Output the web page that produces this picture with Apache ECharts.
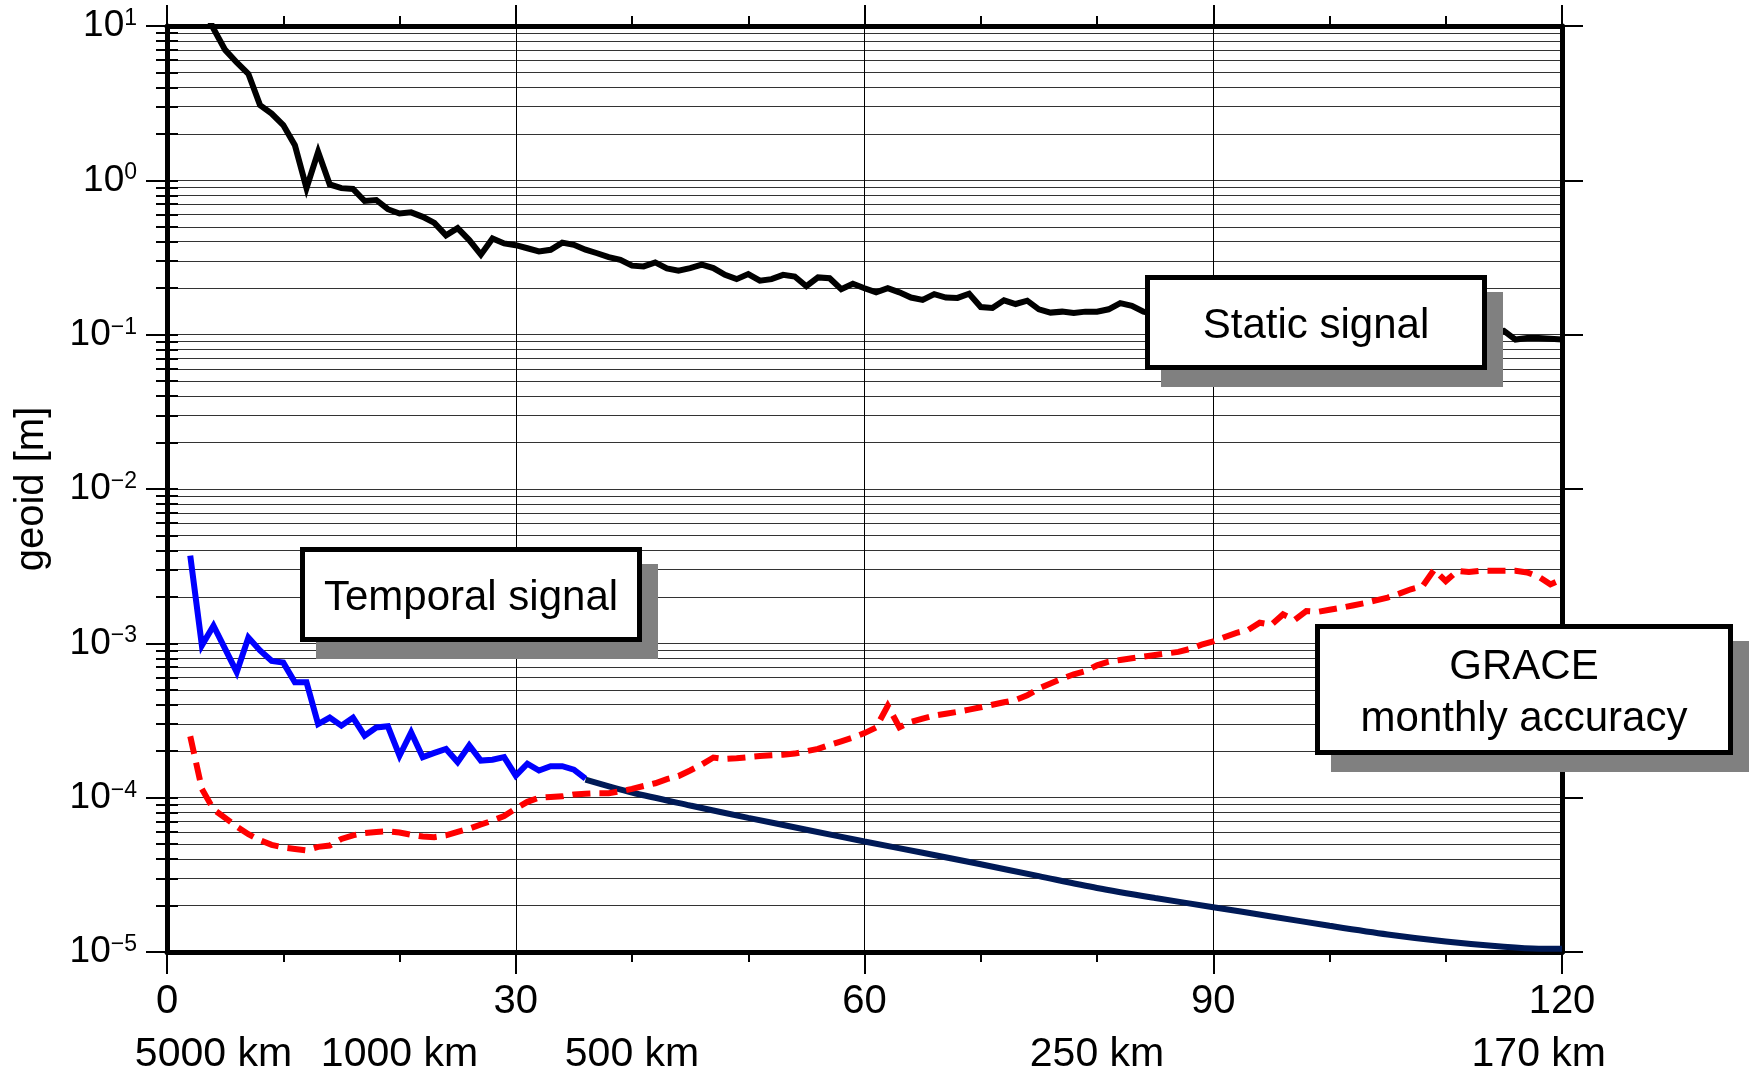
<!DOCTYPE html>
<html>
<head>
<meta charset="utf-8">
<title>geoid signal</title>
<script src="https://cdn.jsdelivr.net/npm/echarts@6/dist/echarts.min.js"></script>
<style>
    html, body {margin: 0; padding: 0; background: #ffffff;}
    #char1 {width: 1750px; height: 1075px;}
</style>
</head>
<body>
<div id="char1"></div>
<script>
// x axis: spherical harmonic degree
var degreeMin = 0;
var degreeMax = 120;
var degreeStep = 30;

// half wavelength labels under the degree labels
var kmDegrees = [4, 20, 40, 80, 118];
var kmLabels = ['5000 km', '1000 km', '500 km', '250 km', '170 km'];

// y axis: geoid [m], log scale
var yMin = 1e-5;
var yMax = 10;

// static signal, degree 2 .. 120
var staticStart = 2;
var staticSignal = [
    30, 14, 9.6, 7.0, 5.8, 4.9, 3.07, 2.71, 2.28, 1.69,
    0.89, 1.53, 0.94, 0.89, 0.88, 0.735, 0.746, 0.65, 0.61, 0.62,
    0.58, 0.53, 0.44, 0.49, 0.41, 0.33, 0.42, 0.39, 0.38, 0.363,
    0.346, 0.355, 0.395, 0.382, 0.355, 0.337, 0.318, 0.305, 0.28, 0.277,
    0.294, 0.269, 0.26, 0.27, 0.284, 0.27, 0.244, 0.229, 0.247, 0.224,
    0.229, 0.244, 0.238, 0.206, 0.235, 0.232, 0.197, 0.214, 0.2, 0.188,
    0.2, 0.188, 0.174, 0.168, 0.183, 0.174, 0.173, 0.184, 0.151, 0.149,
    0.167, 0.158, 0.166, 0.146, 0.139, 0.141, 0.138, 0.141, 0.141, 0.146,
    0.16, 0.154, 0.141, 0.136, 0.131, 0.134, 0.127, 0.129, 0.124, 0.126,
    0.12, 0.123, 0.118, 0.12, 0.115, 0.117, 0.112, 0.115, 0.11, 0.112,
    0.108, 0.111, 0.106, 0.108, 0.104, 0.107, 0.103, 0.105, 0.101, 0.104,
    0.1, 0.103, 0.104, 0.106, 0.093, 0.095, 0.095, 0.094, 0.093
];

// GRACE monthly accuracy, degree 2 .. 120
var graceStart = 2;
var graceAccuracy = [
    2.5e-4, 1.14e-4, 8.4e-5, 7.4e-5, 6.5e-5, 5.8e-5, 5.3e-5, 4.95e-5, 4.75e-5, 4.65e-5,
    4.55e-5, 4.8e-5, 4.9e-5, 5.4e-5, 5.7e-5, 5.9e-5, 6.0e-5, 6.05e-5, 5.95e-5, 5.75e-5,
    5.6e-5, 5.55e-5, 5.7e-5, 6.0e-5, 6.3e-5, 6.7e-5, 7.1e-5, 7.6e-5, 8.5e-5, 9.4e-5,
    1.0e-4, 1.01e-4, 1.02e-4, 1.05e-4, 1.06e-4, 1.07e-4, 1.07e-4, 1.1e-4, 1.14e-4, 1.19e-4,
    1.24e-4, 1.32e-4, 1.38e-4, 1.5e-4, 1.64e-4, 1.82e-4, 1.78e-4, 1.8e-4, 1.83e-4, 1.86e-4,
    1.88e-4, 1.9e-4, 1.93e-4, 2.0e-4, 2.07e-4, 2.2e-4, 2.32e-4, 2.45e-4, 2.62e-4, 2.85e-4,
    3.94e-4, 2.86e-4, 3.1e-4, 3.25e-4, 3.4e-4, 3.5e-4, 3.6e-4, 3.72e-4, 3.85e-4, 4.0e-4,
    4.15e-4, 4.3e-4, 4.6e-4, 5.1e-4, 5.5e-4, 5.9e-4, 6.3e-4, 6.6e-4, 7.2e-4, 7.6e-4,
    7.8e-4, 8.0e-4, 8.2e-4, 8.4e-4, 8.6e-4, 8.8e-4, 9.2e-4, 9.8e-4, 1.03e-3, 1.1e-3,
    1.17e-3, 1.22e-3, 1.36e-3, 1.32e-3, 1.54e-3, 1.42e-3, 1.62e-3, 1.6e-3, 1.65e-3, 1.7e-3,
    1.76e-3, 1.82e-3, 1.9e-3, 1.98e-3, 2.1e-3, 2.24e-3, 2.34e-3, 3.0e-3, 2.53e-3, 2.95e-3,
    2.9e-3, 2.95e-3, 2.95e-3, 2.95e-3, 2.95e-3, 2.88e-3, 2.7e-3, 2.41e-3, 2.6e-3
];

// temporal signal, degree 2 .. 36
var temporalStart = 2;
var temporalSignal = [
    3.7e-3, 9.7e-4, 1.3e-3, 9.2e-4, 6.5e-4, 1.09e-3, 9.0e-4, 7.7e-4, 7.5e-4, 5.6e-4,
    5.6e-4, 3.0e-4, 3.3e-4, 2.93e-4, 3.3e-4, 2.52e-4, 2.85e-4, 2.9e-4, 1.87e-4, 2.65e-4,
    1.83e-4, 1.95e-4, 2.07e-4, 1.7e-4, 2.18e-4, 1.74e-4, 1.76e-4, 1.83e-4, 1.39e-4, 1.66e-4,
    1.5e-4, 1.6e-4, 1.6e-4, 1.52e-4, 1.33e-4
];

// temporal signal continued by the model curve
var modelDegrees = [36, 40, 45, 50, 55, 60, 65, 70, 75, 80, 85, 90, 95, 100, 105, 110, 115, 118, 120];
var modelSignal = [1.31e-4, 1.08e-4, 8.9e-5, 7.4e-5, 6.2e-5, 5.2e-5, 4.4e-5, 3.7e-5, 3.1e-5, 2.6e-5,
    2.24e-5, 1.95e-5, 1.7e-5, 1.48e-5, 1.3e-5, 1.17e-5, 1.08e-5, 1.05e-5, 1.05e-5];

var fontName = '"Liberation Sans", Arial, Helvetica, sans-serif';

$ready(function () {
    char1();
});

function $ready(fn) {
    if (document.readyState !== 'loading') fn();
    else document.addEventListener('DOMContentLoaded', fn);
}

function pairs(start, values) {
    return values.map(function (v, i) {
        return [start + i, v];
    });
}

function zip(xs, ys) {
    return xs.map(function (x, i) {
        return [x, ys[i]];
    });
}

// 1..9 times each decade, for the thin grid lines and the short ticks
function logMinorValues() {
    var out = [];
    for (var e = Math.round(Math.log10(yMin)); e < Math.round(Math.log10(yMax)); e++) {
        for (var m = 1; m <= 9; m++) {
            out.push(m * Math.pow(10, e));
        }
    }
    out.push(yMax);
    return out;
}

// white label box with a grey drop shadow, drawn above the curves
function noteBox(x, y, w, h, text) {
    return {
        type: 'group',
        x: x,
        y: y,
        z: 100,
        children: [
            {type: 'rect', z: 100, shape: {x: 16, y: 17, width: w, height: h}, style: {fill: '#808080'}},
            {type: 'rect', z: 101, shape: {x: 2.5, y: 2.5, width: w - 5, height: h - 5},
                style: {fill: '#ffffff', stroke: '#000000', lineWidth: 5}},
            {type: 'text', z: 102, x: w / 2, y: h / 2 + 4,
                style: {text: text, fill: '#000000', font: '42px ' + fontName,
                    align: 'center', verticalAlign: 'middle', lineHeight: 52}}
        ]
    };
}

function yAxisBase(position) {
    return {
        type: 'log',
        logBase: 10,
        min: yMin,
        max: yMax,
        position: position,
        axisLine: {show: false},
        axisTick: {show: false},
        axisLabel: {show: false},
        splitLine: {show: false}
    };
}

function xAxisBase(position) {
    return {
        type: 'value',
        min: degreeMin,
        max: degreeMax,
        interval: degreeStep,
        position: position,
        axisLine: {show: false},
        axisTick: {show: false},
        axisLabel: {show: false},
        splitLine: {show: false}
    };
}

function char1() {

    var myChart = echarts.init(document.getElementById('char1'));
    var minor = logMinorValues();
    var frame = {show: true, onZero: false, lineStyle: {color: '#000000', width: 5}};

    var yLeft = yAxisBase('left');
    yLeft.axisLine = frame;
    yLeft.axisTick = {show: true, length: 21, lineStyle: {color: '#000000', width: 2}};
    yLeft.axisLabel = {
        show: true,
        margin: 30,
        formatter: function (v) {
            var e = Math.round(Math.log10(v));
            var s = e < 0 ? '\u2212' + (-e) : '' + e;
            return '{b|10}{s|' + s + '}';
        },
        rich: {
            b: {fontSize: 37, lineHeight: 38, fontFamily: fontName, color: '#000000'},
            s: {fontSize: 23, lineHeight: 22, fontFamily: fontName, color: '#000000', verticalAlign: 'top'}
        }
    };
    yLeft.name = 'geoid [m]';
    yLeft.nameLocation = 'middle';
    yLeft.nameGap = 115;
    yLeft.nameRotate = 90;
    yLeft.nameTextStyle = {fontSize: 40, fontFamily: fontName, color: '#000000'};

    var yLeftMinor = yAxisBase('left');
    yLeftMinor.axisTick = {show: true, customValues: minor, length: 11, lineStyle: {color: '#000000', width: 2}};
    yLeftMinor.splitLine = {show: true, lineStyle: {color: '#333333', width: 1}};

    var yRight = yAxisBase('right');
    yRight.axisLine = frame;
    yRight.axisTick = {show: true, length: 21, lineStyle: {color: '#000000', width: 2}};

    var yRightMinor = yAxisBase('right');
    yRightMinor.axisTick = {show: true, customValues: minor, length: 11, lineStyle: {color: '#000000', width: 2}};

    var xBottom = xAxisBase('bottom');
    xBottom.axisLine = frame;
    xBottom.axisTick = {show: true, length: 22, lineStyle: {color: '#000000', width: 2}};
    xBottom.minorTick = {show: true, splitNumber: 3, length: 10, lineStyle: {color: '#000000', width: 2}};
    xBottom.axisLabel = {show: true, margin: 30, fontSize: 40, fontFamily: fontName, color: '#000000'};
    xBottom.splitLine = {show: true, lineStyle: {color: '#000000', width: 1}};

    var xTop = xAxisBase('top');
    xTop.axisLine = frame;
    xTop.axisTick = {show: true, length: 21, lineStyle: {color: '#000000', width: 2}};
    xTop.minorTick = {show: true, splitNumber: 3, length: 10, lineStyle: {color: '#000000', width: 2}};

    var xKm = xAxisBase('bottom');
    xKm.offset = 50;
    xKm.axisLabel = {
        show: true,
        customValues: kmDegrees,
        margin: 32,
        fontSize: 41,
        fontFamily: fontName,
        color: '#000000',
        formatter: function (v) {
            return kmLabels[kmDegrees.indexOf(v)];
        }
    };

    option = {
        backgroundColor: '#ffffff',
        animation: false,
        grid: {left: 167, right: 188, top: 26, bottom: 121, containLabel: false},
        xAxis: [xBottom, xTop, xKm],
        yAxis: [yLeft, yLeftMinor, yRight, yRightMinor],
        series: [
            {
                name: 'Static signal',
                type: 'line',
                symbol: 'none',
                clip: true,
                lineStyle: {color: '#000000', width: 6, join: 'miter'},
                data: pairs(staticStart, staticSignal)
            },
            {
                name: 'Temporal signal',
                type: 'line',
                symbol: 'none',
                lineStyle: {color: '#0000ff', width: 6, join: 'miter'},
                data: pairs(temporalStart, temporalSignal)
            },
            {
                name: 'Temporal model',
                type: 'line',
                symbol: 'none',
                smooth: 0.3,
                lineStyle: {color: '#001a57', width: 6},
                data: zip(modelDegrees, modelSignal)
            },
            {
                name: 'GRACE monthly accuracy',
                type: 'line',
                symbol: 'none',
                lineStyle: {color: '#ff0000', width: 6, type: [18, 9], cap: 'butt', join: 'miter'},
                data: pairs(graceStart, graceAccuracy)
            }
        ],
        graphic: [
            noteBox(1145, 275, 342, 95, 'Static signal'),
            noteBox(300, 547, 342, 95, 'Temporal signal'),
            noteBox(1315, 624, 418, 131, 'GRACE\nmonthly accuracy')
        ]
    };

    myChart.setOption(option);
    window.addEventListener('resize', function () {
        myChart.resize();
    })

}
</script>
</body>
</html>
